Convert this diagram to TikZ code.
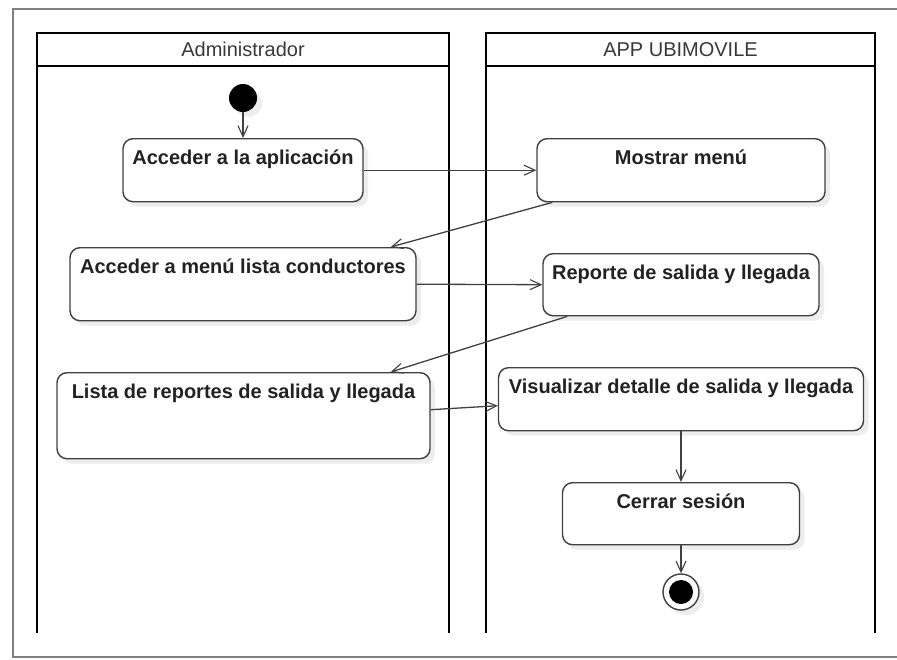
\documentclass[tikz,border=0pt]{standalone}
\usepackage{fontspec}
\setmainfont{Liberation Sans}
\usepackage{tikz}
\usetikzlibrary{arrows.meta,shadows}
\definecolor{edgegray}{HTML}{404040}
\definecolor{txtgray}{HTML}{222222}
\tikzset{
  shd/.style={drop shadow={shadow xshift=5pt, shadow yshift=-5pt, fill=black, opacity=0.07}},
  actv/.style={draw=edgegray, line width=1.4pt, rounded corners=10pt, fill=white, shd,
    anchor=north, inner xsep=2pt, inner ysep=4pt, text height=22pt,
    font=\fontsize{20}{22}\selectfont\bfseries, text=txtgray},
  flw/.style={-{Straight Barb[length=11pt, width=10pt, line width=1.1pt]}, line width=1.3pt, edgegray},
  lanel/.style={line width=2pt, black},
  lanehd/.style={font=\fontsize{20}{22}\selectfont, text=txtgray!90!white},
}
\begin{document}
\begin{tikzpicture}[x=1pt,y=-1pt]
  \useasboundingbox (0,0) rectangle (897,659);
  \draw[gray, line width=1.5pt] (897,9) -- (13,9) -- (13,657) -- (897,657);
  % lanes
  \draw[lanel] (37,633) -- (37,33) -- (449,33) -- (449,633) (37,66) -- (449,66);
  \draw[lanel] (486,633) -- (486,33) -- (875,33) -- (875,633) (486,66) -- (875,66);
  \node[lanehd] (admin) at (243,49.5) {Administrador};
  \node[lanehd] (appub) at (680.5,49.5) {APP UBIMOVILE};
  % actions
  \node[circle, fill=black, inner sep=0pt, minimum size=28pt, shd] (ini) at (243,98) {};
  \node[actv, minimum width=240pt, text depth=33pt] (acc) at (243,138) {Acceder a la aplicación};
  \node[actv, minimum width=288pt, text depth=33pt] (menu) at (681,138) {Mostrar menú};
  \node[actv, minimum width=346pt, text depth=43pt] (cond) at (243,247) {Acceder a menú lista conductores};
  \node[actv, minimum width=276pt, text depth=32pt] (rep) at (681,253) {Reporte de salida y llegada};
  \node[actv, minimum width=373pt, text depth=56pt] (lrep) at (243.5,372) {Lista de reportes de salida y llegada};
  \node[actv, minimum width=365pt, text depth=33pt] (vis) at (681,367) {Visualizar detalle de salida y llegada};
  \node[actv, minimum width=237pt, text depth=32pt] (cerr) at (681,482) {Cerrar sesión};
  \node[circle, draw=edgegray, line width=1.4pt, fill=white, inner sep=0pt, minimum size=36pt, shd] (fin) at (681,592) {};
  \fill[black] (fin.center) circle (12pt);
  % flows
  \draw[flw] (ini) -- (acc.north);
  \draw[flw] (acc.east) -- (menu.west);
  \draw[flw] ([xshift=16pt]menu.south west) -- ([xshift=-26pt]cond.north east);
  \draw[flw] (cond.east) -- (rep.west);
  \draw[flw] ([xshift=25pt]rep.south west) -- ([xshift=-40pt]lrep.north east);
  \draw[flw] ([yshift=6pt]lrep.east) -- ([yshift=-6.5pt]vis.west);
  \draw[flw] (vis.south) -- (cerr.north);
  \draw[flw] (cerr.south) -- (fin.north);
\end{tikzpicture}
\end{document}
